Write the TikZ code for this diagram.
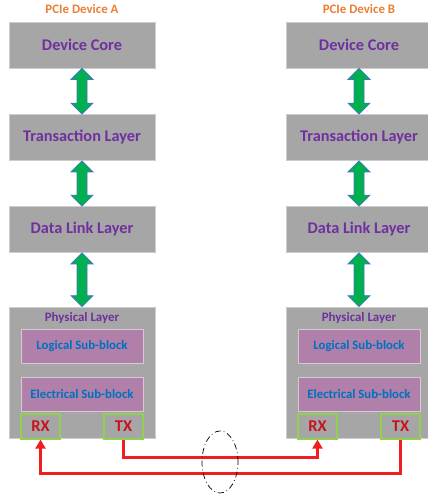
\documentclass[tikz,border=0pt]{standalone}
\usepackage{fontspec}
\setmainfont{Carlito}
\usetikzlibrary{arrows.meta,calc,shapes.geometric}
\definecolor{boxgray}{RGB}{166,166,166}
\definecolor{boxedge}{RGB}{205,205,205}
\definecolor{purp}{RGB}{112,48,160}
\definecolor{subfill}{RGB}{176,128,170}
\definecolor{subedge}{RGB}{215,200,215}
\definecolor{blu}{RGB}{0,112,192}
\definecolor{orng}{RGB}{237,125,49}
\definecolor{grn}{RGB}{146,208,80}
\definecolor{portred}{RGB}{200,20,30}
\definecolor{wirered}{RGB}{240,30,30}
\definecolor{arrgreen}{RGB}{0,176,80}
\definecolor{arredge}{RGB}{68,114,196}
\newcommand\dblarrow[2]{%
  \draw[garrow] (#1.south) -- ++(11,11) -- ++(-6,0) -- ($(#2.north)+(5,-11)$) -- ++(6,0)
    -- (#2.north) -- ++(-11,-11) -- ++(6,0) -- ($(#1.south)+(-5,11)$) -- ++(-6,0) -- cycle;}
\begin{document}
\begin{tikzpicture}[x=1pt,y=-1pt,
  layer/.style={draw=boxedge, line width=0.8pt, fill=boxgray, minimum width=146pt, minimum height=46pt, inner sep=0pt,
    font=\bfseries\fontsize{16.3}{18}\selectfont, text=purp},
  phys/.style={draw=boxedge, line width=0.8pt, fill=boxgray, minimum width=146pt, minimum height=131pt, inner sep=0pt},
  physlabel/.style={font=\bfseries\fontsize{12.9}{14}\selectfont, text=purp, inner sep=0pt},
  sub/.style={draw=subedge, line width=0.8pt, fill=subfill, minimum width=122pt, minimum height=34pt, inner sep=0pt,
    font=\bfseries\fontsize{12.8}{14}\selectfont, text=blu},
  port/.style={draw=grn, line width=1.2pt, minimum width=39pt, minimum height=25pt, inner sep=0pt,
    font=\bfseries\fontsize{16.5}{18}\selectfont, text=portred},
  title/.style={font=\bfseries\fontsize{12.9}{14}\selectfont, text=orng, inner sep=0pt},
  garrow/.style={fill=arrgreen, draw=arredge, line width=0.7pt, line join=miter},
  wire/.style={draw=wirered, line width=2.4pt, -{Triangle[width=10pt,length=9pt]}},
  cable/.style={draw=black, line width=0.7pt, dash pattern=on 6pt off 3pt on 0.8pt off 3pt}
]
\useasboundingbox (0,0) rectangle (428,499);
% Device A
\node[title] (tA) at (82,9) {PCIe Device A};
\node[layer] (dcA) at (82,45) {Device Core};
\node[layer] (tlA) at (82,137.5) {Transaction Layer};
\node[layer] (dlA) at (82,229.5) {Data Link Layer};
\node[phys] (plA) at (82,372.5) {};
\node[physlabel] (plAl) at (82,318) {Physical Layer};
\node[sub] (lsA) at (82,346) {Logical Sub-block};
\node[sub] (esA) at (82,394) {Electrical Sub-block};
\node[port] (rxA) at (40.5,426.5) {RX};
\node[port] (txA) at (123.5,426.5) {TX};
\dblarrow{dcA}{tlA}
\dblarrow{tlA}{dlA}
\dblarrow{dlA}{plA}
% Device B
\node[title] (tB) at (359,9) {PCIe Device B};
\node[layer] (dcB) at (359,45) {Device Core};
\node[layer] (tlB) at (359,137.5) {Transaction Layer};
\node[layer] (dlB) at (359,229.5) {Data Link Layer};
\node[phys] (plB) at (359,372.5) {};
\node[physlabel] (plBl) at (359,318) {Physical Layer};
\node[sub] (lsB) at (359,346) {Logical Sub-block};
\node[sub] (esB) at (359,394) {Electrical Sub-block};
\node[port] (rxB) at (317.5,426.5) {RX};
\node[port] (txB) at (400.5,426.5) {TX};
\dblarrow{dcB}{tlB}
\dblarrow{tlB}{dlB}
\dblarrow{dlB}{plB}
% Link
\draw[wire] (txA.south) -- ++(0,18) -| (rxB.south);
\draw[wire] (txB.south) -- ++(0,34) -| (rxA.south);
\node[cable, ellipse, minimum width=36pt, minimum height=62pt, inner sep=0pt] (cab) at (220,462) {};
\end{tikzpicture}
\end{document}
